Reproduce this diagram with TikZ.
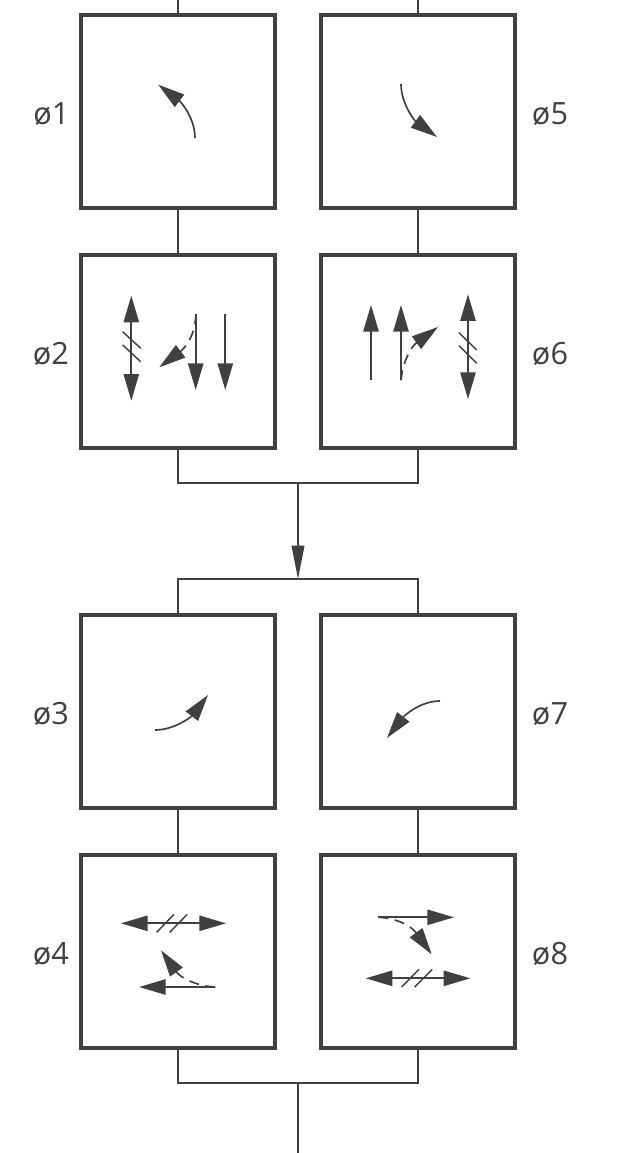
\documentclass[tikz,border=0pt]{standalone}
\usepackage{fontspec}
\setmainfont{Open Sans}
\usetikzlibrary{arrows.meta}
\definecolor{ink}{HTML}{404040}
\tikzset{
    phasebox/.style={draw=ink, line width=3pt, minimum size=145pt, inner sep=0pt},
    phaselabel/.style={text=ink, inner sep=0pt, font=\fontsize{23}{27}\selectfont},
    wire/.style={draw=ink, line width=1.2pt},
    flow/.style={draw=ink, line width=1.25pt, -{Triangle[length=20pt,width=11.5pt]}},
    flowboth/.style={draw=ink, line width=1.25pt, {Triangle[length=20pt,width=11.5pt]}-{Triangle[length=20pt,width=11.5pt]}},
    permit/.style={flow, dash pattern=on 7.5pt off 5pt},
    hash/.style={draw=ink, line width=1.1pt},
    mainflow/.style={draw=ink, line width=1.25pt, -{Triangle[length=25pt,width=9.5pt]}}
}
\begin{document}
\begin{tikzpicture}[x=0.75pt,y=-0.75pt]
    \useasboundingbox (0,0) rectangle (617,1153);
    % phase boxes
    \node[phasebox] (phi1) at (178,111.5) {};
    \node[phasebox] (phi2) at (178,351.5) {};
    \node[phasebox] (phi3) at (178,711.5) {};
    \node[phasebox] (phi4) at (178,951.5) {};
    \node[phasebox] (phi5) at (418,111.5) {};
    \node[phasebox] (phi6) at (418,351.5) {};
    \node[phasebox] (phi7) at (418,711.5) {};
    \node[phasebox] (phi8) at (418,951.5) {};
    % labels
    \node[phaselabel] (lab1) at (51.5,114) {ø1};
    \node[phaselabel] (lab2) at (51,354) {ø2};
    \node[phaselabel] (lab3) at (51,714) {ø3};
    \node[phaselabel] (lab4) at (51,954) {ø4};
    \node[phaselabel] (lab5) at (550,114) {ø5};
    \node[phaselabel] (lab6) at (550,354) {ø6};
    \node[phaselabel] (lab7) at (550,714) {ø7};
    \node[phaselabel] (lab8) at (550,954) {ø8};
    % ring wiring
    \coordinate (topa) at (178,0);
    \coordinate (topb) at (418,0);
    \coordinate (joina) at (298,483);
    \coordinate (joinb) at (298,579);
    \coordinate (joinc) at (298,1083);
    \coordinate (exit) at (298,1153);
    \draw[wire] (topa) -- (phi1);
    \draw[wire] (topb) -- (phi5);
    \draw[wire] (phi1) -- (phi2);
    \draw[wire] (phi5) -- (phi6);
    \draw[wire] (phi3) -- (phi4);
    \draw[wire] (phi7) -- (phi8);
    \draw[wire] (phi2) |- (joina) -| (phi6);
    \draw[wire] (phi3) |- (joinb) -| (phi7);
    \draw[wire] (phi4) |- (joinc) -| (phi8);
    \draw[mainflow] (joina) -- (joinb);
    \draw[wire] (joinc) -- (exit);
    % phase 1 and 5
    \coordinate (p1s) at (195,138);
    \coordinate (p1e) at (158.3,84.7);
    \draw[flow] (p1s) .. controls (195,118) and (181,102) .. (p1e);
    \coordinate (p5s) at (401,84);
    \coordinate (p5e) at (437,137);
    \draw[flow] (p5s) .. controls (401,104) and (415,121) .. (p5e);
    % phase 3 and 7
    \coordinate (p3s) at (155,730);
    \coordinate (p3e) at (208,695);
    \draw[flow] (p3s) .. controls (175,730) and (192,716) .. (p3e);
    \coordinate (p7s) at (440,701);
    \coordinate (p7e) at (387,738);
    \draw[flow] (p7s) .. controls (420,701) and (404,716) .. (p7e);
    % phase 2
    \coordinate (p2as) at (131.3,295.7);
    \coordinate (p2ae) at (131.3,400.7);
    \draw[flowboth] (p2as) -- (p2ae);
    \coordinate (p2h1) at (122.7,331.7);
    \coordinate (p2h2) at (140.7,348.3);
    \coordinate (p2h3) at (122.7,345);
    \coordinate (p2h4) at (140.7,361.7);
    \draw[hash] (p2h1) -- (p2h2);
    \draw[hash] (p2h3) -- (p2h4);
    \coordinate (p2bs) at (195.7,314.3);
    \coordinate (p2be) at (195.7,390);
    \draw[flow] (p2bs) -- (p2be);
    \coordinate (p2cs) at (225.3,314.3);
    \coordinate (p2ce) at (225.3,390);
    \draw[flow] (p2cs) -- (p2ce);
    \coordinate (p2ds) at (195.7,314.3);
    \coordinate (p2de) at (159.3,367.3);
    \draw[permit] (p2ds) .. controls (195.7,335) and (185,348) .. (p2de);
    % phase 6
    \coordinate (p6as) at (371,380.3);
    \coordinate (p6ae) at (371,305);
    \draw[flow] (p6as) -- (p6ae);
    \coordinate (p6bs) at (401,380.3);
    \coordinate (p6be) at (401,305);
    \draw[flow] (p6bs) -- (p6be);
    \coordinate (p6cs) at (401,380.3);
    \coordinate (p6ce) at (438,327);
    \draw[permit] (p6cs) .. controls (403,360) and (412,346) .. (p6ce);
    \coordinate (p6ds) at (468,294.3);
    \coordinate (p6de) at (468,399);
    \draw[flowboth] (p6ds) -- (p6de);
    \coordinate (p6h1) at (459,332.7);
    \coordinate (p6h2) at (476.7,350);
    \coordinate (p6h3) at (459,345.7);
    \coordinate (p6h4) at (476.7,363.3);
    \draw[hash] (p6h1) -- (p6h2);
    \draw[hash] (p6h3) -- (p6h4);
    % phase 4
    \coordinate (p4as) at (121,923.3);
    \coordinate (p4ae) at (226,923.3);
    \draw[flowboth] (p4as) -- (p4ae);
    \coordinate (p4h1) at (156.7,932.3);
    \coordinate (p4h2) at (174,914.3);
    \coordinate (p4h3) at (169.7,932.3);
    \coordinate (p4h4) at (187.3,914.3);
    \draw[hash] (p4h1) -- (p4h2);
    \draw[hash] (p4h3) -- (p4h4);
    \coordinate (p4bs) at (215.3,987);
    \coordinate (p4be) at (139,987);
    \draw[flow] (p4bs) -- (p4be);
    \coordinate (p4cs) at (215.3,987);
    \coordinate (p4ce) at (161,950.3);
    \draw[permit] (p4cs) .. controls (195,986) and (180,977) .. (p4ce);
    % phase 8
    \coordinate (p8as) at (378.3,917.3);
    \coordinate (p8ae) at (454,917.3);
    \draw[flow] (p8as) -- (p8ae);
    \coordinate (p8bs) at (378.3,917.3);
    \coordinate (p8be) at (431.7,954.3);
    \draw[permit] (p8bs) .. controls (398,918) and (412,927) .. (p8be);
    \coordinate (p8cs) at (365.7,978.3);
    \coordinate (p8ce) at (470.3,978.3);
    \draw[flowboth] (p8cs) -- (p8ce);
    \coordinate (p8h1) at (401.7,987);
    \coordinate (p8h2) at (419,969.3);
    \coordinate (p8h3) at (414.7,987);
    \coordinate (p8h4) at (432.3,969.3);
    \draw[hash] (p8h1) -- (p8h2);
    \draw[hash] (p8h3) -- (p8h4);
\end{tikzpicture}
\end{document}
